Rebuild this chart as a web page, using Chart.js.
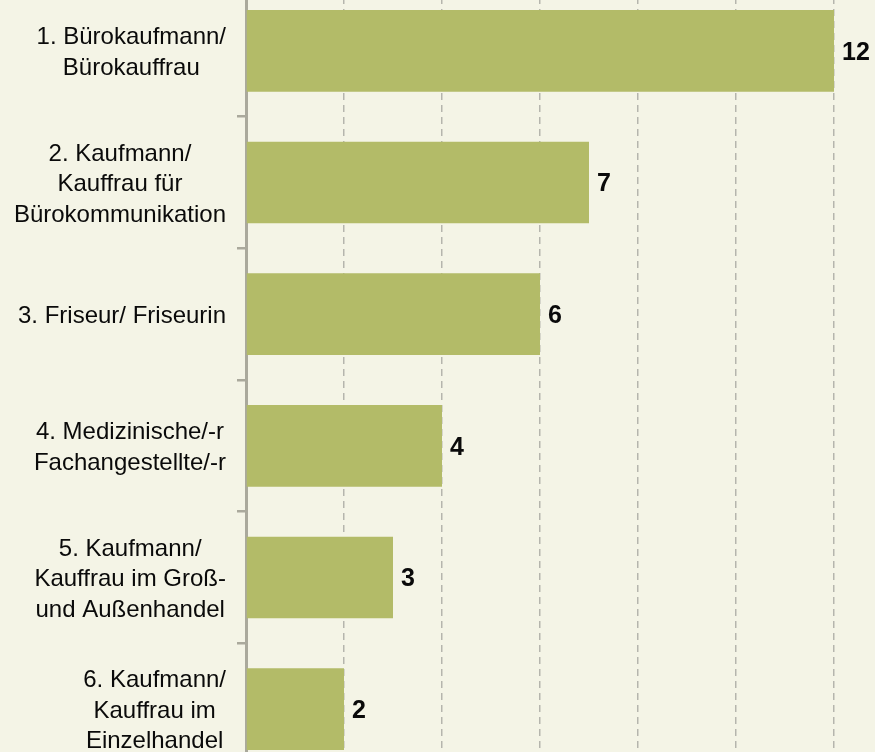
<!DOCTYPE html>
<html>
<head>
<meta charset="utf-8">
<script src="https://cdn.jsdelivr.net/npm/chart.js@4/dist/chart.umd.min.js"></script>
<style>
  html, body { margin: 0; padding: 0; background: #f4f4e6; overflow: hidden; }
  #wrap { position: absolute; left: 0; top: -15px; width: 875px; height: 790px; }
</style>
</head>
<body>
<div id="wrap"><canvas id="chart"></canvas></div>
<script>
const categories = [
  ["1. Bürokaufmann/", "Bürokauffrau"],
  ["2. Kaufmann/", "Kauffrau für", "Bürokommunikation"],
  ["3. Friseur/ Friseurin"],
  ["4. Medizinische/-r", "Fachangestellte/-r"],
  ["5. Kaufmann/", "Kauffrau im Groß-", "und Außenhandel"],
  ["6. Kaufmann/", "Kauffrau im", "Einzelhandel"]
];
const values = [12, 7, 6, 4, 3, 2];
const xMax = 12;
const xStep = 2;

const BAR_COLOR = "#b3bb68";
const AXIS_COLOR = "#aaa99c";
const GRID_COLOR = "#b5b5ad";

// category labels: block right-aligned, lines centered inside the block
const categoryLabels = {
  id: "categoryLabels",
  afterDraw: function (chart) {
    const ctx = chart.ctx;
    const yScale = chart.scales.y;
    ctx.save();
    ctx.font = "24px 'Liberation Sans', Arial, sans-serif";
    ctx.fillStyle = "#0a0a0a";
    ctx.textAlign = "center";
    ctx.textBaseline = "middle";
    const right = 226;
    const lineH = 30.5;
    categories.forEach(function (lines, i) {
      const cy = yScale.getPixelForValue(i);
      const maxW = Math.max.apply(null, lines.map(function (l) { return ctx.measureText(l).width; }));
      const cx = right - maxW / 2;
      const top = cy - (lines.length - 1) * lineH / 2;
      lines.forEach(function (line, j) {
        ctx.fillText(line, cx, top + j * lineH + 2);
      });
    });
    ctx.restore();
  }
};

// bold value labels at the end of each bar
const valueLabels = {
  id: "valueLabels",
  afterDatasetsDraw: function (chart) {
    const ctx = chart.ctx;
    const meta = chart.getDatasetMeta(0);
    ctx.save();
    ctx.font = "bold 25px 'Liberation Sans', Arial, sans-serif";
    ctx.fillStyle = "#0a0a0a";
    ctx.textAlign = "left";
    ctx.textBaseline = "middle";
    meta.data.forEach(function (bar, i) {
      ctx.fillText(String(values[i]), bar.x + 8, bar.y + 2);
    });
    ctx.restore();
  }
};

new Chart(document.getElementById("chart"), {
  type: "bar",
  data: {
    labels: categories,
    datasets: [{
      data: values,
      backgroundColor: BAR_COLOR,
      borderWidth: 0,
      categoryPercentage: 1,
      barPercentage: 0.62
    }]
  },
  options: {
    indexAxis: "y",
    responsive: true,
    maintainAspectRatio: false,
    animation: false,
    layout: { padding: { left: 0, right: 41, top: 0, bottom: 0 } },
    plugins: {
      legend: { display: false },
      tooltip: { enabled: false }
    },
    scales: {
      x: {
        min: 0,
        max: xMax,
        ticks: { display: false, stepSize: xStep },
        border: { display: false, dash: [7, 5] },
        grid: {
          drawTicks: false,
          color: function (ctx) {
            return ctx.tick && ctx.tick.value === 0 ? "rgba(0,0,0,0)" : GRID_COLOR;
          },
          lineWidth: 1.5
        },
        afterFit: function (scale) { scale.height = 0; }
      },
      y: {
        ticks: { display: false },
        border: { display: true, color: AXIS_COLOR, width: 3 },
        grid: {
          drawOnChartArea: false,
          drawTicks: true,
          tickLength: 9,
          color: AXIS_COLOR,
          lineWidth: 2.5
        },
        afterFit: function (scale) { scale.width = 246; }
      }
    }
  },
  plugins: [categoryLabels, valueLabels]
});
</script>
</body>
</html>
